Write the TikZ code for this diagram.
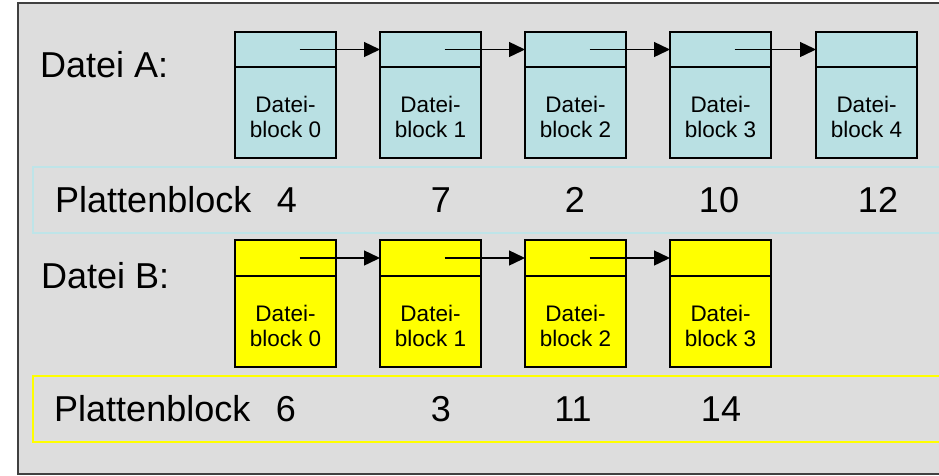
\documentclass[tikz,border=0pt]{standalone}
\usepackage{fontspec}
\setmainfont{Liberation Sans}
\usetikzlibrary{positioning,arrows.meta}
\definecolor{blockA}{RGB}{185,224,227}
\definecolor{stripA}{RGB}{190,228,232}
\definecolor{blockB}{RGB}{255,255,0}
\definecolor{framebg}{RGB}{221,221,221}
\definecolor{framerule}{RGB}{64,64,64}
\tikzset{
  head/.style={draw,line width=1.4pt,minimum width=101pt,minimum height=#1,
    inner sep=0pt,outer sep=0pt,anchor=north west},
  body/.style={draw,line width=1.4pt,minimum width=101pt,minimum height=91pt,
    inner sep=0pt,outer sep=0pt},
  dbtext/.style={align=center,inner sep=0pt,font=\fontsize{22.5}{25}\selectfont},
  big/.style={anchor=base west,inner sep=0pt,font=\fontsize{36}{40}\selectfont},
  num/.style={anchor=base,inner sep=0pt,font=\fontsize{36}{40}\selectfont},
  link/.style={-{Triangle[length=16pt,width=15pt]},line width=1.4pt}
}
\begin{document}
\begin{tikzpicture}[x=1pt,y=-1pt]
\useasboundingbox (0,0) rectangle (939,475);
\draw[fill=framebg,draw=framerule,line width=1.5pt] (18,3) rectangle (960,474);

% Datei A
\node[big] (da) at (40,77) {Datei A:};
\foreach \i/\x in {0/235,1/380,2/525,3/670,4/816}{
  \node[head=35pt,fill=blockA] (a\i) at (\x,32) {};
  \node[body,fill=blockA,below=0pt of a\i] (ab\i) {};
  \node[dbtext] (at\i) at ([yshift=-4pt]ab\i.center) {Datei-\\block \i};
}
\foreach \i/\j in {0/1,1/2,2/3,3/4}
  \draw[link] ([xshift=14pt]a\i.center) -- (a\j.west);

\draw[stripA,line width=2pt] (33,167) rectangle (960,233);
\node[big] (pa) at (55,212.5) {Plattenblock};
\foreach \n/\x in {4/287,7/441,2/575,10/719,12/878}
  \node[num] (na\n) at (\x,212.5) {\n};

% Datei B
\node[big] (db) at (41,288) {Datei B:};
\foreach \i/\x in {0/235,1/380,2/525,3/670}{
  \node[head=36pt,fill=blockB] (b\i) at (\x,240) {};
  \node[body,fill=blockB,below=0pt of b\i] (bb\i) {};
  \node[dbtext] (bt\i) at ([yshift=-4pt]bb\i.center) {Datei-\\block \i};
}
\foreach \i/\j in {0/1,1/2,2/3}
  \draw[link] ([xshift=14pt]b\i.center) -- (b\j.west);

\draw[blockB,line width=2pt] (33,376) rectangle (960,442);
\node[big] (pb) at (54,421.5) {Plattenblock};
\foreach \n/\x in {6/286,3/441,11/573,14/721}
  \node[num] (nb\n) at (\x,421.5) {\n};
\end{tikzpicture}
\end{document}
